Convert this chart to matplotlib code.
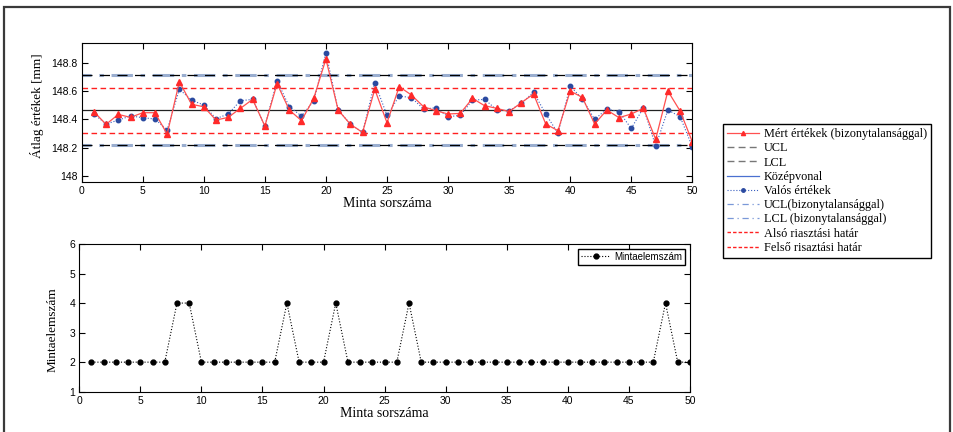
import numpy as np
import matplotlib.pyplot as plt
from matplotlib.lines import Line2D
from matplotlib.patches import Rectangle

# sample index
minta = np.arange(1, 51)

# measured values (with uncertainty)
mert = [148.454, 148.365, 148.435, 148.414, 148.447, 148.447, 148.296, 148.666, 148.506, 148.489,
        148.395, 148.414, 148.478, 148.541, 148.353, 148.652, 148.466, 148.391, 148.548, 148.826,
        148.466, 148.365, 148.308, 148.612, 148.376, 148.631, 148.572, 148.489, 148.461, 148.438,
        148.442, 148.548, 148.496, 148.478, 148.454, 148.518, 148.579, 148.367, 148.320, 148.600,
        148.555, 148.367, 148.466, 148.412, 148.438, 148.478, 148.259, 148.600, 148.459, 148.242]

# real values
valos = [148.438, 148.367, 148.395, 148.424, 148.412, 148.402, 148.325, 148.612, 148.536, 148.501,
         148.405, 148.438, 148.532, 148.541, 148.353, 148.673, 148.489, 148.424, 148.529, 148.871,
         148.466, 148.367, 148.308, 148.659, 148.428, 148.565, 148.553, 148.473, 148.482, 148.419,
         148.428, 148.536, 148.541, 148.466, 148.461, 148.513, 148.591, 148.438, 148.301, 148.635,
         148.544, 148.400, 148.473, 148.454, 148.336, 148.482, 148.212, 148.466, 148.419, 148.207]

# control limits
ucl = 148.713
lcl = 148.217
kozep = 148.465
felso_riaszt = 148.623
also_riaszt = 148.307

# sample sizes
mintaelemszam = [2, 2, 2, 2, 2, 2, 2, 4, 4, 2, 2, 2, 2, 2, 2, 2, 4, 2, 2, 2,
                 4, 2, 2, 2, 2, 2, 4, 2, 2, 2, 2, 2, 2, 2, 2, 2, 2, 2, 2, 2,
                 2, 2, 2, 2, 2, 2, 2, 4, 2, 2]

x_ticks = [0, 5, 10, 15, 20, 25, 30, 35, 40, 45, 50]
y_ticks_top = [148, 148.2, 148.4, 148.6, 148.8]
y_ticks_bottom = [1, 2, 3, 4, 5, 6]

sans = 'Liberation Sans'
serif = 'Liberation Serif'
plt.rcParams['font.family'] = sans

fig = plt.figure(figsize=(9.54, 4.32), dpi=100)

# outer frame of the page
fig.add_artist(Rectangle((4 / 954, -0.05), 946 / 954, 1 - 7 / 432 + 0.05,
                         transform=fig.transFigure, fill=False, lw=1.6, ec='#3a3a3a'))

######## top chart ########
ax1 = fig.add_axes([0.0856, 0.5794, 0.6401, 0.3204])
x0, x1 = 0, 50
blue_grey = '#9aaed0'

# limits: black long dashes with the blue-grey dash-dot showing in the gaps
ax1.plot([x0, x1], [ucl, ucl], color=blue_grey, lw=2.2, linestyle=(4, (7, 2.5, 1.5, 2.5)))
ax1.plot([x0, x1], [lcl, lcl], color=blue_grey, lw=2.2, linestyle=(4, (7, 2.5, 1.5, 2.5)))
ax1.plot([x0, x1], [ucl, ucl], color='black', lw=0.9, linestyle=(0, (8, 6)))
ax1.plot([x0, x1], [lcl, lcl], color='black', lw=0.9, linestyle=(0, (8, 6)))
ax1.plot([x0, x1], [kozep, kozep], color='#222222', lw=0.9)
ax1.plot([x0, x1], [felso_riaszt, felso_riaszt], color='#ff2020', lw=1, linestyle=(0, (4, 2.5)))
ax1.plot([x0, x1], [also_riaszt, also_riaszt], color='#ff2020', lw=1, linestyle=(0, (4, 2.5)))
ax1.plot(minta, valos, color='#3a5fc0', lw=0.8, linestyle=':', marker='o', ms=3.2,
         mfc='#2b4aa0', mec='#2b4aa0')
ax1.plot(minta, mert, color='#ff5050', lw=0.9, marker='^', ms=3.8, mfc='#ff2a2a', mec='#ff2a2a')

ax1.set_xlim(0, 50)
ax1.set_ylim(147.96, 148.937)
ax1.set_xticks(x_ticks)
ax1.set_yticks(y_ticks_top)
ax1.set_yticklabels(['148', '148.2', '148.4', '148.6', '148.8'])
ax1.tick_params(direction='in', top=True, right=True, length=4, labelsize=7.5, pad=3)
ax1.set_xlabel('Minta sorszáma', family=serif, fontsize=10, labelpad=1)
ax1.set_ylabel('Átlag értékek [mm]', family=serif, fontsize=9.5)
ax1.yaxis.set_label_coords(-0.062, 0.55)

handles = [
    Line2D([], [], color='#ff5050', lw=0.9, marker='^', ms=3, mfc='#ff2a2a', mec='#ff2a2a'),
    Line2D([], [], color='#777777', lw=1, linestyle=(0, (5, 3))),
    Line2D([], [], color='#777777', lw=1, linestyle=(0, (5, 3))),
    Line2D([], [], color='#4a70d0', lw=0.9),
    Line2D([], [], color='#3a5fc0', lw=0.8, linestyle=':', marker='o', ms=2.5, mfc='#2b4aa0', mec='#2b4aa0'),
    Line2D([], [], color='#7a98d8', lw=0.9, linestyle=(0, (5, 3, 1, 3))),
    Line2D([], [], color='#7a98d8', lw=0.9, linestyle=(0, (5, 3, 1, 3))),
    Line2D([], [], color='#ff2020', lw=1, linestyle=(0, (2.5, 1.5))),
    Line2D([], [], color='#ff2020', lw=1, linestyle=(0, (2.5, 1.5))),
]
labels = ['Mért értékek (bizonytalansággal)', 'UCL', 'LCL', 'Középvonal', 'Valós értékek',
          'UCL(bizonytalansággal)', 'LCL (bizonytalansággal)', 'Alsó riasztási határ',
          'Felső risaztási határ']
fig.legend(handles, labels, loc='upper left', bbox_to_anchor=(723 / 954, 1 - 124 / 432),
           borderaxespad=0, fancybox=False, edgecolor='black', framealpha=1,
           prop={'family': serif, 'size': 8.8}, handlelength=2.6, handletextpad=0.4,
           labelspacing=0.18, borderpad=0.35)

######## bottom chart ########
ax2 = fig.add_axes([0.0831, 0.0933, 0.6401, 0.3419])
ax2.plot(minta, mintaelemszam, color='black', lw=0.8, linestyle=':', marker='o', ms=3.5,
         label='Mintaelemszám')
ax2.set_xlim(0, 50)
ax2.set_ylim(1, 6)
ax2.set_xticks(x_ticks)
ax2.set_yticks(y_ticks_bottom)
ax2.tick_params(direction='in', top=True, right=True, length=4, labelsize=7.5, pad=3)
ax2.set_xlabel('Minta sorszáma', family=serif, fontsize=10, labelpad=1)
ax2.set_ylabel('Mintaelemszám', family=serif, fontsize=9.5)
ax2.yaxis.set_label_coords(-0.034, 0.42)
ax2.legend(loc='upper right', fancybox=False, edgecolor='black', framealpha=1,
           prop={'family': sans, 'size': 7}, handlelength=3, handletextpad=0.4,
           borderpad=0.3, borderaxespad=0.5)

plt.savefig('out.png', dpi=100)
